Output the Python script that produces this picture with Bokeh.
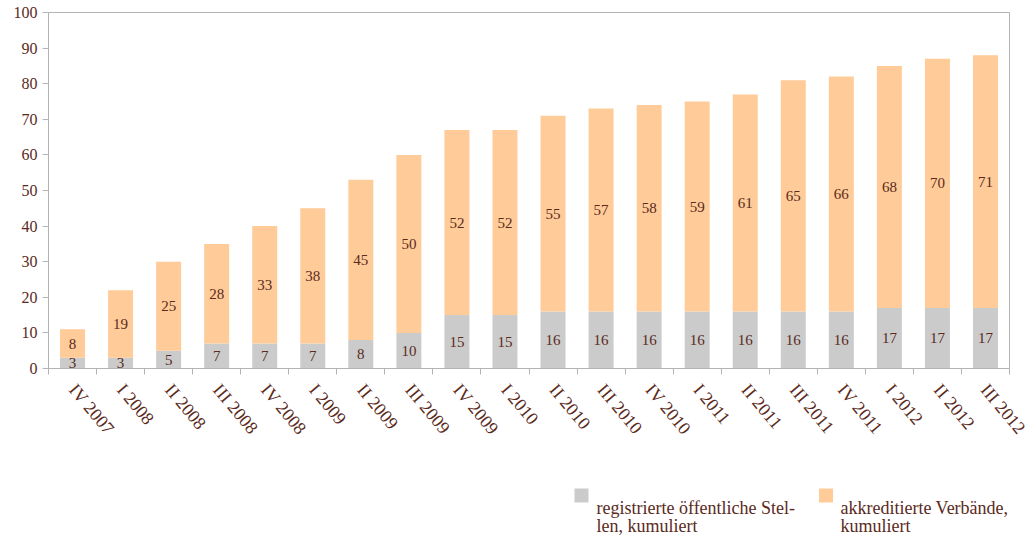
from math import radians

from bokeh.core.properties import value
from bokeh.embed import file_html
from bokeh.layouts import column
from bokeh.models import ColumnDataSource, FixedTicker, Range1d
from bokeh.plotting import figure
from bokeh.resources import INLINE

# Quarterly cumulative counts
QUARTERS = [
    "IV 2007", "I 2008", "II 2008", "III 2008", "IV 2008",
    "I 2009", "II 2009", "III 2009", "IV 2009", "I 2010",
    "II 2010", "III 2010", "IV 2010", "I 2011", "II 2011",
    "III 2011", "IV 2011", "I 2012", "II 2012", "III 2012",
]
PUBLIC_BODIES = [3, 3, 5, 7, 7, 7, 8, 10, 15, 15, 16, 16, 16, 16, 16, 16, 16, 17, 17, 17]
ASSOCIATIONS = [8, 19, 25, 28, 33, 38, 45, 50, 52, 52, 55, 57, 58, 59, 61, 65, 66, 68, 70, 71]
SERIES_LABELS = [
    "registrierte öffentliche Stel-\nlen, kumuliert",
    "akkreditierte Verbände,\nkumuliert",
]
Y_TICKS = [0, 10, 20, 30, 40, 50, 60, 70, 80, 90, 100]

FONT = "Liberation Serif"
TEXT_COLOR = "#5a2a1c"
GREY = "#cbcbcb"
PEACH = "#ffcb98"
AXIS_COLOR = "#b4b4b4"

WIDTH = 1029
BORDER_LEFT, BORDER_RIGHT = 48, 20

n = len(QUARTERS)
xs = [i + 0.5 for i in range(n)]
src = ColumnDataSource(dict(
    x=xs,
    public=PUBLIC_BODIES,
    assoc=ASSOCIATIONS,
    public_mid=[v / 2 for v in PUBLIC_BODIES],
    assoc_mid=[p + a / 2 for p, a in zip(PUBLIC_BODIES, ASSOCIATIONS)],
    public_txt=[str(v) for v in PUBLIC_BODIES],
    assoc_txt=[str(v) for v in ASSOCIATIONS],
))

p = figure(
    width=WIDTH, height=470,
    x_range=Range1d(0, n), y_range=Range1d(0, 100),
    output_backend="svg", toolbar_location=None,
    min_border_left=BORDER_LEFT, min_border_right=BORDER_RIGHT,
    min_border_top=12, min_border_bottom=102,
)
p.vbar_stack(["public", "assoc"], x="x", width=0.52, source=src,
             fill_color=[GREY, PEACH], line_color=None)

for ycol, tcol in (("public_mid", "public_txt"), ("assoc_mid", "assoc_txt")):
    p.text(x="x", y=ycol, text=tcol, source=src,
           text_font=value(FONT), text_font_size="15px", text_color=TEXT_COLOR,
           text_align="center", text_baseline="middle")

# x axis: labels at bar centres, tick marks at category boundaries
p.xaxis.ticker = FixedTicker(ticks=xs, minor_ticks=list(range(n + 1)))
p.xaxis.major_label_overrides = {x: q for x, q in zip(xs, QUARTERS)}
p.xaxis.major_tick_line_color = None
p.xaxis.major_tick_out = 6
p.xaxis.major_tick_in = 0
p.xaxis.minor_tick_line_color = AXIS_COLOR
p.xaxis.minor_tick_out = 6
p.xaxis.minor_tick_in = 0
p.xaxis.major_label_orientation = -radians(50)
p.xaxis.major_label_standoff = 12
p.xaxis.major_label_text_font_size = "18px"

p.yaxis.ticker = FixedTicker(ticks=Y_TICKS)
p.yaxis.major_tick_out = 6
p.yaxis.major_tick_in = 0
p.yaxis.minor_tick_line_color = None
p.yaxis.major_tick_line_color = AXIS_COLOR
p.yaxis.major_label_standoff = 5
p.yaxis.major_label_text_font_size = "16px"

for ax in (p.xaxis, p.yaxis):
    ax.axis_line_color = AXIS_COLOR
    ax.major_label_text_font = FONT
    ax.major_label_text_color = TEXT_COLOR

p.grid.visible = False
p.outline_line_color = AXIS_COLOR
p.background_fill_color = "white"
p.border_fill_color = "white"

# legend strip below the chart; its x range spans the page width so that
# positions are given in page pixels even though the frame is aligned with
# the chart above
leg = figure(
    width=WIDTH, height=65,
    x_range=Range1d(BORDER_LEFT, WIDTH - BORDER_RIGHT), y_range=Range1d(0, 65),
    x_axis_type=None, y_axis_type=None,
    output_backend="svg", toolbar_location=None,
    min_border_left=BORDER_LEFT, min_border_right=BORDER_RIGHT,
    min_border_top=0, min_border_bottom=0,
)
leg.grid.visible = False
leg.outline_line_color = None

swatch_x = [581, 825.5]
text_x = [596, 840]
for sx, tx, color, label in zip(swatch_x, text_x, [GREY, PEACH], SERIES_LABELS):
    leg.rect(x=[sx], y=[40], width=14, height=14, fill_color=color, line_color=None)
    lines = label.split("\n")
    leg.text(x=[tx] * len(lines), y=[28 - 18 * i for i in range(len(lines))], text=lines,
             text_font=value(FONT), text_font_size="18px", text_color=TEXT_COLOR,
             text_align="left", text_baseline="alphabetic")

layout = column(p, leg)
open("out.html", "w").write(file_html(layout, INLINE))
